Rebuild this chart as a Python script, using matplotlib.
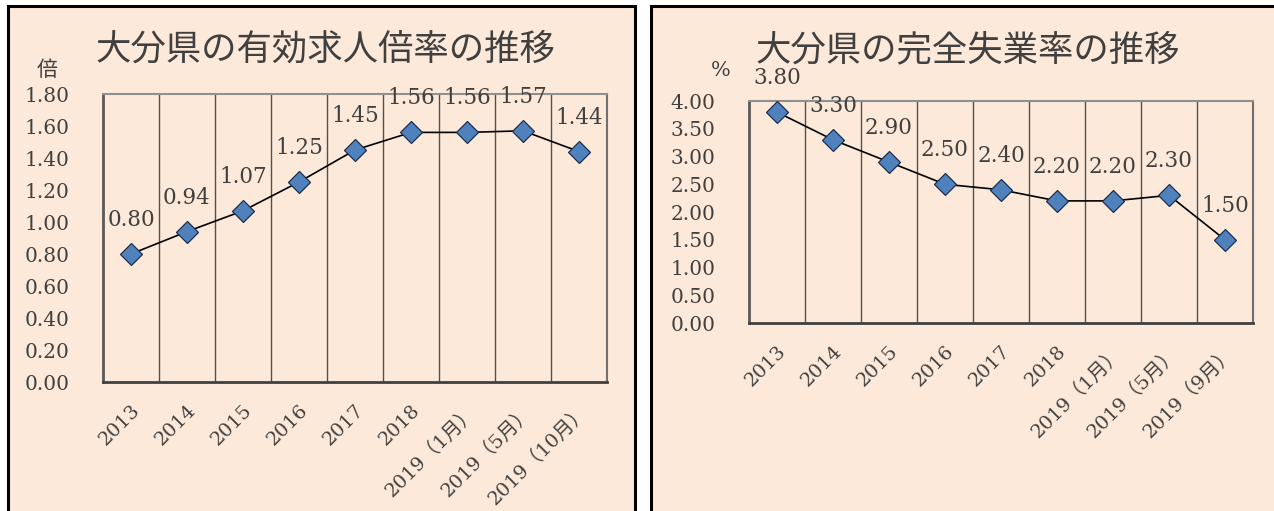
import matplotlib
matplotlib.use("Agg")
import matplotlib.pyplot as plt
from matplotlib.patches import Rectangle

# ---- data ----
jobs_labels = ["2013", "2014", "2015", "2016", "2017", "2018",
               "2019（1月）", "2019（5月）", "2019（10月）"]
jobs_values = [0.80, 0.94, 1.07, 1.25, 1.45, 1.56, 1.56, 1.57, 1.44]
jobs_yticks = [0.0, 0.2, 0.4, 0.6, 0.8, 1.0, 1.2, 1.4, 1.6, 1.8]

unemp_labels = ["2013", "2014", "2015", "2016", "2017", "2018",
                "2019（1月）", "2019（5月）", "2019（9月）"]
unemp_values = [3.80, 3.30, 2.90, 2.50, 2.40, 2.20, 2.20, 2.30, 1.50]
unemp_yticks = [0.0, 0.5, 1.0, 1.5, 2.0, 2.5, 3.0, 3.5, 4.0]

# ---- style ----
W, H, DPI = 1274, 511, 100
BG = "#FDE9D9"
TXT = "#404040"
FONT = ["DejaVu Serif", "Noto Sans CJK JP", "DejaVu Sans"]
plt.rcParams["font.family"] = FONT

fig = plt.figure(figsize=(W / DPI, H / DPI), dpi=DPI)
fig.patch.set_facecolor("white")


def px(x0, y0, x1, y1):
    """pixel box (top-left origin) -> figure fraction rect"""
    return [x0 / W, 1 - y1 / H, (x1 - x0) / W, (y1 - y0) / H]


def panel(x0, x1):
    r = Rectangle((x0 / W, -0.05), (x1 - x0) / W, 1 - 6 / H + 0.05,
                  transform=fig.transFigure, facecolor=BG,
                  edgecolor="black", linewidth=2.2, zorder=-5)
    fig.patches.append(r)


def draw(rect, labels, values, yticks, title, unit, title_xy, unit_xy):
    ax = fig.add_axes(px(*rect))
    ax.set_facecolor(BG)
    x = list(range(len(values)))
    ax.set_xlim(-0.5, len(values) - 0.5)
    ax.set_ylim(yticks[0], yticks[-1])
    for b in range(1, len(values)):
        ax.axvline(b - 0.5, color="#505050", linewidth=1.0, zorder=1)
    ax.plot(x, values, color="black", linewidth=1.2, zorder=3, clip_on=False,
            marker="D", markersize=11, markerfacecolor="#4F81BD",
            markeredgecolor="#1F2F4F", markeredgewidth=0.9)
    for xi, v in zip(x, values):
        ax.annotate(f"{v:.2f}", (xi, v), xytext=(0, 34), textcoords="offset pixels",
                    ha="center", va="center", fontsize=15.5, color=TXT, zorder=4)
    ax.set_yticks(yticks)
    ax.set_yticklabels([f"{t:.2f}" for t in yticks])
    ax.set_xticks(x)
    ax.set_xticklabels(labels, rotation=45, ha="right", va="top",
                       rotation_mode="anchor")
    ax.tick_params(axis="y", length=0, pad=24, labelsize=14.5, labelcolor=TXT)
    ax.tick_params(axis="x", length=0, pad=14, labelsize=14, labelcolor=TXT)
    ax.spines["left"].set_color("#595959")
    ax.spines["left"].set_linewidth(2.0)
    ax.spines["bottom"].set_color("#404040")
    ax.spines["bottom"].set_linewidth(2.0)
    ax.spines["top"].set_color("#909090")
    ax.spines["top"].set_linewidth(1.5)
    ax.spines["right"].set_color("#707070")
    ax.spines["right"].set_linewidth(1.5)
    fig.text(title_xy[0] / W, 1 - title_xy[1] / H, title, ha="center", va="center",
             fontsize=25.5, color=TXT, family=["Noto Sans CJK JP"])
    fig.text(unit_xy[0] / W, 1 - unit_xy[1] / H, unit, ha="center", va="center",
             fontsize=15, color=TXT)
    return ax


panel(8, 635)
panel(651, 1300)

draw((103, 94, 607, 382), jobs_labels, jobs_values, jobs_yticks,
     "大分県の有効求人倍率の推移", "倍", (325, 50), (47, 70))
draw((749, 101, 1253, 323), unemp_labels, unemp_values, unemp_yticks,
     "大分県の完全失業率の推移", "%", (968, 50), (721, 70))

fig.savefig("out.png", dpi=DPI, facecolor="white")
